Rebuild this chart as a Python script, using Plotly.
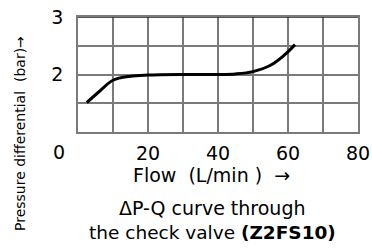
import plotly.graph_objects as go

# Data
flow = [2.5, 6, 10, 15, 20, 30, 40, 45, 50, 55, 59, 62]
dp = [1.51, 1.70, 1.90, 1.97, 1.99, 2.0, 2.0, 2.01, 2.05, 2.16, 2.34, 2.52]

x_grid = [0, 10, 20, 30, 40, 50, 60, 70, 80]
x_labels = ["", "", "20", "", "40", "", "60", "", "80"]
y_grid = [1, 1.5, 2, 2.5, 3]
y_labels = ["", "", "2", "", "3"]

FONT = "DejaVu Sans, Arial, sans-serif"

L, R, T, B = 78, 14, 17, 119
W, H = 372, 251

fig = go.Figure()
fig.add_trace(go.Scatter(x=flow, y=dp, mode="lines",
                         line=dict(color="black", width=3, shape="spline", smoothing=1.0),
                         hoverinfo="skip"))

GRID = "#7a7a7a"
fig.update_layout(
    width=W, height=H,
    margin=dict(l=L, r=R, t=T, b=B, autoexpand=False),
    paper_bgcolor="white", plot_bgcolor="white",
    showlegend=False,
    font=dict(family=FONT, color="black"),
    xaxis=dict(range=[0, 80], tickvals=x_grid, ticktext=x_labels, automargin=False,
               showgrid=True, gridcolor=GRID, gridwidth=1.6,
               showline=True, linecolor=GRID, linewidth=1.6, mirror=True,
               zeroline=False, ticks="outside", ticklen=3, tickcolor="rgba(0,0,0,0)",
               tickfont=dict(size=19, family=FONT, color="black")),
    yaxis=dict(range=[1, 3], tickvals=y_grid, ticktext=y_labels, automargin=False,
               showgrid=True, gridcolor=GRID, gridwidth=1.6,
               showline=True, linecolor=GRID, linewidth=1.6, mirror=True,
               zeroline=False, ticks="outside", ticklen=9, tickcolor="rgba(0,0,0,0)",
               tickfont=dict(size=19, family=FONT, color="black")),
)

# darker top border and the darker 1.5 gridline seen in the reference
fig.add_shape(type="line", xref="x", yref="y", x0=0, x1=80, y0=3, y1=3,
              line=dict(color="#222", width=1.6), layer="above")
fig.add_shape(type="line", xref="x", yref="y", x0=0, x1=80, y0=1.5, y1=1.5,
              line=dict(color="#111", width=1.2), layer="below")

pw, ph = W - L - R, H - T - B
def px(xp):
    return (xp - L) / pw
def py(yp):
    return 1 - (yp - T) / ph

ann = [
    dict(text="0", x=59, y=152, size=19),
    dict(text="Flow  (L/min )  →", x=211, y=175, size=19),
    dict(text="ΔP-Q curve through", x=212, y=208, size=19),
    dict(text="the check valve <b>(Z2FS10)</b>", x=212, y=232, size=18.5),
]
for a in ann:
    fig.add_annotation(text=a["text"], x=px(a["x"]), y=py(a["y"]),
                       xref="paper", yref="paper", xanchor="center", yanchor="middle",
                       showarrow=False, font=dict(size=a["size"], family=FONT, color="black"))
fig.add_annotation(text="Pressure differential  (bar)→", x=px(20), y=py(134),
                   xref="paper", yref="paper", xanchor="center", yanchor="middle",
                   textangle=-90, showarrow=False,
                   font=dict(size=14, family=FONT, color="black"))

fig.write_html("out.html", config={"displayModeBar": False},
               post_script="document.body.style.margin='0px';document.body.style.overflow='hidden';")
